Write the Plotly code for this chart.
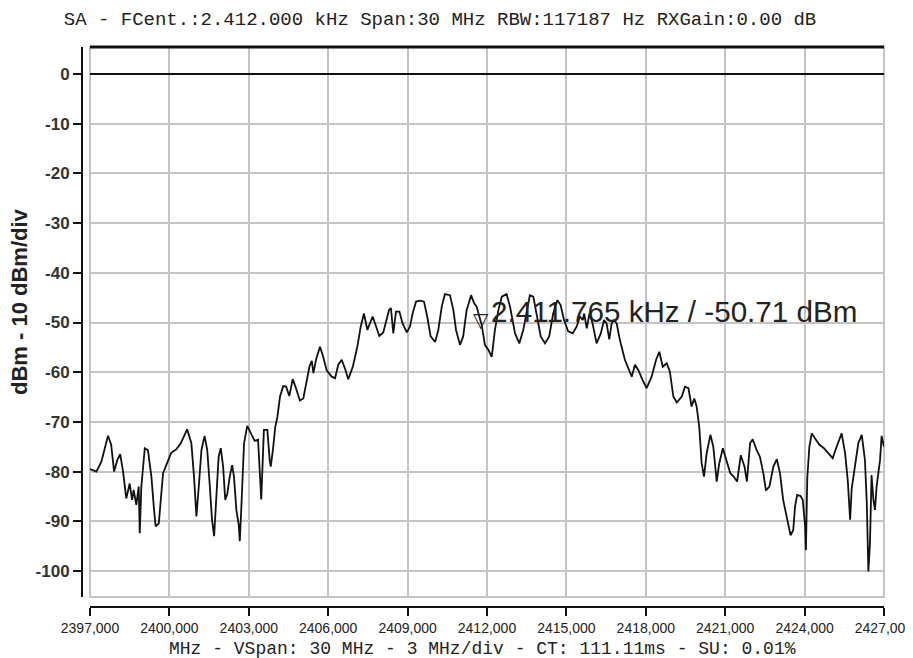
import plotly.graph_objects as go

# ---- data ----
freq_mhz = [
    2397.00, 2397.24, 2397.43, 2397.56, 2397.68, 2397.80, 2397.91, 2398.03, 2398.14, 2398.25,
    2398.37, 2398.50, 2398.59, 2398.65, 2398.75, 2398.84, 2398.88, 2398.94, 2399.07, 2399.19,
    2399.32, 2399.42, 2399.48, 2399.60, 2399.76, 2399.92, 2400.07, 2400.26, 2400.43, 2400.67,
    2400.83, 2400.93, 2401.02, 2401.11, 2401.21, 2401.33, 2401.43, 2401.52, 2401.61, 2401.69,
    2401.77, 2401.86, 2401.94, 2402.03, 2402.11, 2402.19, 2402.28, 2402.37, 2402.44, 2402.53,
    2402.62, 2402.66, 2402.72, 2402.82, 2402.94, 2403.09, 2403.22, 2403.35, 2403.45, 2403.47,
    2403.57, 2403.70, 2403.79, 2403.83, 2403.91, 2404.00, 2404.08, 2404.18, 2404.30, 2404.41,
    2404.53, 2404.66, 2404.78, 2404.93, 2405.06, 2405.19, 2405.29, 2405.38, 2405.44, 2405.54,
    2405.69, 2405.81, 2405.94, 2406.13, 2406.26, 2406.38, 2406.51, 2406.63, 2406.76, 2406.93,
    2407.10, 2407.23, 2407.35, 2407.48, 2407.58, 2407.68, 2407.81, 2407.93, 2408.08, 2408.21,
    2408.30, 2408.37, 2408.46, 2408.56, 2408.69, 2408.81, 2408.97, 2409.09, 2409.19, 2409.32,
    2409.47, 2409.62, 2409.74, 2409.87, 2410.04, 2410.16, 2410.29, 2410.41, 2410.60, 2410.73,
    2410.83, 2410.98, 2411.10, 2411.23, 2411.40, 2411.51, 2411.61, 2411.71, 2411.80, 2411.92,
    2412.05, 2412.18, 2412.30, 2412.43, 2412.56, 2412.74, 2412.87, 2413.06, 2413.22, 2413.37,
    2413.52, 2413.62, 2413.75, 2413.88, 2414.03, 2414.19, 2414.35, 2414.50, 2414.66, 2414.78,
    2414.91, 2415.07, 2415.24, 2415.39, 2415.51, 2415.62, 2415.67, 2415.77, 2415.87, 2415.99,
    2416.14, 2416.30, 2416.42, 2416.52, 2416.62, 2416.71, 2416.80, 2416.90, 2417.02, 2417.21,
    2417.47, 2417.59, 2417.72, 2417.88, 2418.03, 2418.22, 2418.39, 2418.51, 2418.64, 2418.79,
    2418.91, 2419.04, 2419.17, 2419.36, 2419.48, 2419.61, 2419.73, 2419.83, 2419.92, 2420.02,
    2420.11, 2420.20, 2420.30, 2420.44, 2420.55, 2420.68, 2420.77, 2420.91, 2421.06, 2421.19,
    2421.32, 2421.45, 2421.59, 2421.73, 2421.82, 2421.94, 2422.04, 2422.19, 2422.31, 2422.44,
    2422.54, 2422.67, 2422.82, 2422.95, 2423.07, 2423.19, 2423.32, 2423.47, 2423.57, 2423.64,
    2423.72, 2423.85, 2423.93, 2424.02, 2424.05, 2424.10, 2424.18, 2424.27, 2424.39, 2424.56,
    2424.73, 2424.90, 2425.06, 2425.21, 2425.40, 2425.53, 2425.63, 2425.72, 2425.78, 2425.90,
    2426.03, 2426.16, 2426.28, 2426.35, 2426.41, 2426.47, 2426.53, 2426.60, 2426.66, 2426.72,
    2426.85, 2426.91, 2427.00,
]
level_dbm = [
    -79.5, -80.0, -78.0, -75.0, -72.8, -74.6, -80.0, -77.7, -76.5, -80.0,
    -85.4, -82.4, -85.7, -83.7, -86.7, -83.0, -92.4, -83.0, -75.3, -75.7,
    -81.0, -87.7, -91.0, -90.4, -80.3, -78.2, -76.2, -75.5, -74.3, -71.5,
    -74.3, -81.0, -89.0, -83.0, -75.7, -72.8, -75.7, -82.4, -89.7, -93.0,
    -85.7, -77.0, -75.3, -79.0, -85.7, -84.4, -81.0, -78.7, -81.0, -87.7,
    -90.7, -94.0, -87.0, -74.3, -70.8, -72.3, -73.8, -73.6, -81.7, -85.6,
    -71.6, -71.6, -77.7, -79.0, -75.7, -71.0, -69.0, -64.9, -62.8, -62.9,
    -64.8, -61.4, -63.2, -65.7, -65.3, -61.6, -58.9, -57.7, -60.2, -57.5,
    -54.9, -56.9, -59.6, -60.9, -61.2, -58.5, -57.5, -59.2, -61.4, -58.9,
    -54.9, -50.8, -48.2, -51.5, -50.2, -48.8, -50.8, -52.7, -52.0, -49.5,
    -47.5, -47.1, -52.2, -47.8, -47.8, -50.2, -52.0, -50.8, -48.2, -45.8,
    -45.6, -45.8, -48.8, -52.8, -53.9, -51.5, -46.8, -44.3, -44.5, -47.5,
    -51.5, -54.5, -52.8, -47.5, -44.5, -46.1, -46.8, -48.8, -50.5, -54.5,
    -55.5, -56.9, -51.5, -47.5, -44.8, -44.3, -46.8, -52.2, -54.2, -51.5,
    -46.8, -44.5, -44.8, -48.2, -52.8, -54.2, -52.8, -48.2, -45.5, -46.5,
    -49.5, -51.8, -52.2, -50.8, -48.8, -49.5, -48.2, -51.2, -48.2, -50.2,
    -54.2, -52.2, -49.5, -50.2, -53.4, -50.2, -49.5, -50.2, -53.5, -57.5,
    -60.9, -58.5, -59.6, -61.6, -63.2, -60.9, -57.5, -55.9, -58.9, -58.2,
    -59.9, -64.9, -66.1, -64.9, -62.9, -63.2, -66.9, -65.3, -66.9, -71.0,
    -78.3, -81.0, -76.3, -72.6, -75.0, -82.0, -78.5, -75.3, -77.8, -80.3,
    -81.0, -82.0, -76.7, -79.0, -82.0, -74.3, -73.5, -75.7, -77.0, -80.3,
    -83.8, -83.0, -79.0, -77.5, -80.3, -85.7, -89.0, -92.8, -91.8, -87.0,
    -84.7, -84.9, -85.7, -91.1, -95.8, -81.4, -75.0, -72.3, -73.3, -74.6,
    -75.3, -76.3, -77.3, -75.0, -72.3, -76.3, -81.7, -89.7, -83.4, -79.0,
    -74.3, -72.6, -77.7, -86.4, -100.1, -94.4, -80.7, -85.7, -87.7, -83.0,
    -77.7, -72.8, -75.0,
]

x_tick_vals = [2397, 2400, 2403, 2406, 2409, 2412, 2415, 2418, 2421, 2424, 2427]
x_tick_text = ["2397,000", "2400,000", "2403,000", "2406,000", "2409,000", "2412,000",
               "2415,000", "2418,000", "2421,000", "2424,000", "2427,000"]
y_tick_vals = [0, -10, -20, -30, -40, -50, -60, -70, -80, -90, -100]
y_tick_text = ["0", "-10", "-20", "-30", "-40", "-50", "-60", "-70", "-80", "-90", "-100"]

marker_freq = 2411.765
marker_level = -50.71
marker_text = "2.411.765 kHz / -50.71 dBm"

title_text = "SA - FCent.:2.412.000 kHz Span:30 MHz RBW:117187 Hz RXGain:0.00 dB"
x_title_text = "MHz - VSpan: 30 MHz - 3 MHz/div - CT: 111.11ms - SU: 0.01%"
y_title_text = "dBm - 10 dBm/div"

# ---- figure (page has an 8px body margin, so figure px = page px - 8) ----
OFF = 8
W, H = 913, 658 - OFF
ML = 82 - OFF          # y-axis line at page x=82
MT = 47 - OFF          # plot top at page y=47
MR = W - (884 - OFF)   # plot right at page x=884
MB = H - (607 - OFF)   # x-axis line at page y=607
PW = W - ML - MR
PH = H - MT - MB


def px_x(p):   # page x -> paper x
    return (p - 82) / PW


def px_y(p):   # page y -> paper y
    return (607 - p) / PH


fig = go.Figure()
fig.add_trace(go.Scatter(
    x=freq_mhz, y=level_dbm, mode="lines",
    line=dict(color="#111111", width=1.8),
    showlegend=False, hoverinfo="skip",
))

grid = "#c4c4c4"
fig.update_layout(
    width=W, height=H,
    margin=dict(l=ML, r=MR, t=MT, b=MB, autoexpand=False),
    paper_bgcolor="white", plot_bgcolor="white",
    showlegend=False,
    title=dict(text=title_text, x=(440 - OFF) / W, y=1 - (18 - OFF) / H,
               xanchor="center", yanchor="middle",
               font=dict(family="Liberation Mono, Courier New, monospace", size=19, color="#222")),
    xaxis=dict(
        domain=[px_x(90), 1], anchor="free", position=0,
        range=[2397, 2427], tickvals=x_tick_vals, ticktext=x_tick_text,
        showgrid=True, gridcolor=grid, gridwidth=2, zeroline=False,
        showline=True, linecolor="#111", linewidth=2,
        ticks="outside", ticklen=8, tickwidth=1.5, tickcolor="#111",
        ticklabeloverflow="allow",
        tickfont=dict(family="Liberation Sans, Arial", size=14, color="#222"),
    ),
    yaxis=dict(
        domain=[px_y(597), 1], anchor="free", position=0,
        range=[-105.23, 5.43], tickvals=y_tick_vals, ticktext=y_tick_text,
        showgrid=True, gridcolor=grid, gridwidth=2,
        zeroline=True, zerolinecolor="#111", zerolinewidth=2,
        showline=True, linecolor="#111", linewidth=2,
        ticks="outside", ticklen=8, tickwidth=1.5, tickcolor="#111",
        tickfont=dict(family="Liberation Sans, Arial", size=17, color="#333", weight="bold"),
    ),
    shapes=[
        dict(type="rect", xref="x domain", yref="y domain", x0=0, x1=1, y0=0, y1=1,
             line=dict(color=grid, width=2), layer="below"),
        dict(type="line", xref="x domain", yref="y domain", x0=0, x1=1, y0=1, y1=1,
             line=dict(color="#111", width=3)),
    ],
    annotations=[
        dict(text=x_title_text, xref="paper", yref="paper", x=px_x(482), y=px_y(649),
             xanchor="center", yanchor="middle", showarrow=False,
             font=dict(family="Liberation Mono, Courier New, monospace", size=18, color="#222")),
        dict(text="<b>" + y_title_text + "</b>", xref="paper", yref="paper",
             x=px_x(19), y=px_y(302), textangle=-90,
             xanchor="center", yanchor="middle", showarrow=False,
             font=dict(family="Liberation Sans, Arial", size=22, color="#222")),
        dict(text="▽", x=marker_freq, y=marker_level, xref="x", yref="y",
             xanchor="center", yanchor="middle", yshift=6, showarrow=False,
             font=dict(family="DejaVu Sans", size=20, color="#222")),
        dict(text=marker_text, x=marker_freq, y=marker_level, xref="x", yref="y",
             xanchor="left", yanchor="middle", xshift=8, yshift=15, showarrow=False,
             font=dict(family="Liberation Sans, Arial", size=29.6, color="#222")),
    ],
)

fig.write_html("out.html")
